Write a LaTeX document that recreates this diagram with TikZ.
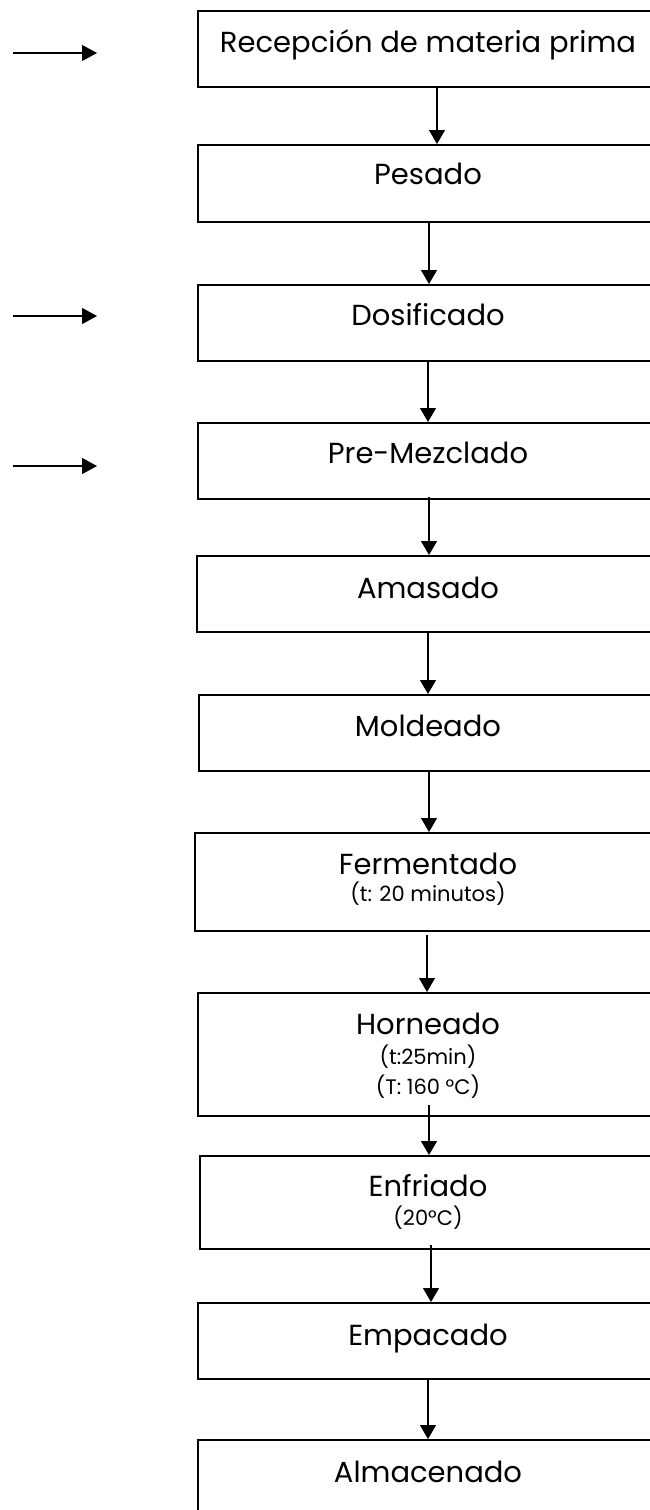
\documentclass[tikz,border=0pt]{standalone}
\usepackage{fontspec}
\setmainfont{Poppins}
\usetikzlibrary{arrows.meta,calc}
\tikzset{
  box/.style={draw=black, line width=2.1pt, rectangle, inner sep=0pt, anchor=north west},
  flow/.style={draw=black, line width=1.1pt, -{Triangle[length=14pt,width=16pt]}},
  side/.style={draw=black, line width=1.2pt, -{Triangle[length=15pt,width=16pt]}},
  big/.style={font=\fontsize{29}{30}\selectfont, inner sep=0pt, anchor=base},
  small/.style={font=\fontsize{21}{23}\selectfont, inner sep=0pt, anchor=base}
}
\begin{document}
\begin{tikzpicture}[x=1pt,y=-1pt]
\useasboundingbox (0,0) rectangle (650,1510);
\clip (0,0) rectangle (650,1510);
\fill[white] (0,0) rectangle (650,1510);
% boxes
\node[box, minimum width=464pt, minimum height=76pt] (b1) at (197,10) {};
\node[box, minimum width=464pt, minimum height=77pt] (b2) at (197,144) {};
\node[box, minimum width=464pt, minimum height=76pt] (b3) at (197,284) {};
\node[box, minimum width=464pt, minimum height=76pt] (b4) at (197,422) {};
\node[box, minimum width=465pt, minimum height=76pt] (b5) at (196,555) {};
\node[box, minimum width=463pt, minimum height=76pt] (b6) at (198,694) {};
\node[box, minimum width=467pt, minimum height=98pt] (b7) at (194,832) {};
\node[box, minimum width=464pt, minimum height=123pt] (b8) at (197,992) {};
\node[box, minimum width=462pt, minimum height=93pt] (b9) at (199,1155) {};
\node[box, minimum width=464pt, minimum height=76pt] (b10) at (197,1302) {};
\node[box, minimum width=464pt, minimum height=80pt] (b11) at (197,1439) {};
% texts
\node[big] (t1) at (428,52) {Recepción de materia prima};
\node[big] (t2) at (428,184) {Pesado};
\node[big] (t3) at (428,325) {Dosificado};
\node[big] (t4) at (428,463) {Pre-Mezclado};
\node[big] (t5) at (428,598) {Amasado};
\node[big] (t6) at (428,736) {Moldeado};
\node[big] (t7) at (428,874) {Fermentado};
\node[small] (t7b) at (428,901) {(t: 20 minutos)};
\node[big] (t8) at (428,1034) {Horneado};
\node[small] (t8b) at (428,1064) {(t:25min)};
\node[small] (t8c) at (428,1094) {(T: 160 °C)};
\node[big] (t9) at (428,1196) {Enfriado};
\node[small] (t9b) at (428,1225) {(20°C)};
\node[big] (t10) at (428,1345) {Empacado};
\node[big] (t11) at (428,1482) {Almacenado};
% connector columns
\coordinate (x1) at (437,0);
\coordinate (x2) at (429,0);
\coordinate (x3) at (428,0);
\coordinate (x4) at (429,0);
\coordinate (x5) at (428,0);
\coordinate (x6) at (429,0);
\coordinate (x7) at (427,0);
\coordinate (x8) at (429,0);
\coordinate (x9) at (431,0);
\coordinate (x10) at (428,0);
% connectors
\draw[flow] (b1.south -| x1) -- (b2.north -| x1);
\draw[flow] (b2.south -| x2) -- (b3.north -| x2);
\draw[flow] (b3.south -| x3) -- (b4.north -| x3);
\draw[flow] ($(b4.south -| x4)+(0,-3)$) -- (b5.north -| x4);
\draw[flow] (b5.south -| x5) -- (b6.north -| x5);
\draw[flow] (b6.south -| x6) -- (b7.north -| x6);
\draw[flow] ($(b7.south -| x7)+(0,3)$) -- (b8.north -| x7);
\draw[flow] ($(b8.south -| x8)+(0,-12)$) -- (b9.north -| x8);
\draw[flow] ($(b9.south -| x9)+(0,-5)$) -- (b10.north -| x9);
\draw[flow] (b10.south -| x10) -- (b11.north -| x10);
% side input arrows
\coordinate (s1) at (13,53);  \coordinate (e1) at (97,53);
\coordinate (s2) at (13,316); \coordinate (e2) at (97,316);
\coordinate (s3) at (13,466); \coordinate (e3) at (97,466);
\draw[side] (s1) -- (e1);
\draw[side] (s2) -- (e2);
\draw[side] (s3) -- (e3);
\end{tikzpicture}
\end{document}
